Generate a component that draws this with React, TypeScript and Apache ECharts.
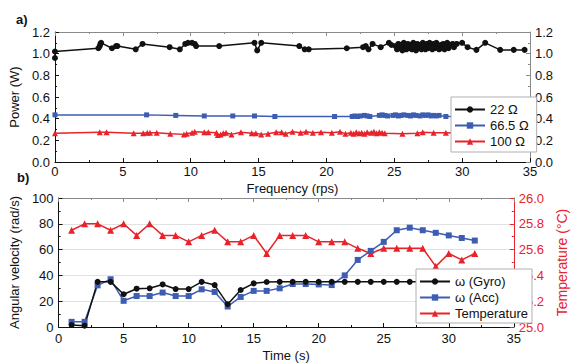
import React, { useEffect, useRef } from 'react';
import * as echarts from 'echarts';

// Panel a) Power (W) vs frequency (rps)
const power22: [number, number][] = [
  [0, 0.96], [0, 1.02], [3.2, 1.05], [3.3, 1.07], [3.35, 1.09], [3.4, 1.1], [4.2, 1.05], [4.5, 1.07], [4.6, 1.07],
  [5.95, 1.04], [6.45, 1.09], [8.45, 1.06], [9.2, 1.04], [9.6, 1.09], [9.8, 1.1], [10.1, 1.1], [10.3, 1.09],
  [10.4, 1.07], [12.1, 1.07], [14.7, 1.1], [14.9, 1.03], [15.2, 1.1], [18.0, 1.07], [18.4, 1.04], [18.7, 1.04],
  [21.5, 1.05], [22.7, 1.06], [22.9, 1.07], [23.1, 1.04], [23.4, 1.09], [24.0, 1.06], [24.6, 1.1], [24.8, 1.08],
  [25.1, 1.07], [25.2, 1.04], [25.3, 1.09], [25.4, 1.05], [25.5, 1.08], [25.6, 1.03], [25.7, 1.1], [25.8, 1.06],
  [25.9, 1.04], [26.0, 1.09], [26.1, 1.05], [26.2, 1.08], [26.3, 1.04], [26.4, 1.1], [26.5, 1.06], [26.6, 1.03],
  [26.7, 1.09], [26.8, 1.05], [26.9, 1.08], [27.0, 1.04], [27.1, 1.1], [27.2, 1.06], [27.3, 1.04], [27.4, 1.09],
  [27.5, 1.05], [27.6, 1.1], [27.7, 1.07], [27.8, 1.04], [27.9, 1.09], [28.0, 1.05], [28.1, 1.1], [28.2, 1.06],
  [28.3, 1.04], [28.4, 1.08], [28.5, 1.05], [28.6, 1.09], [28.7, 1.04], [28.8, 1.07], [28.9, 1.1], [29.0, 1.05],
  [29.1, 1.08], [29.3, 1.09], [29.4, 1.06], [29.6, 1.09], [30.0, 1.1], [30.4, 1.06], [31.05, 1.035], [31.7, 1.1],
  [32.8, 1.035], [33.8, 1.035], [34.6, 1.035],
];

const power66: [number, number][] = [
  [0, 0.435], [6.75, 0.435], [8.9, 0.43], [11.0, 0.425], [13.1, 0.425], [14.7, 0.425], [16.2, 0.42], [20.6, 0.42],
  [21.9, 0.42], [22.1, 0.425], [22.3, 0.42], [22.5, 0.425], [22.8, 0.43], [23.0, 0.425], [23.2, 0.42], [23.9, 0.43],
  [24.1, 0.435], [24.3, 0.43], [24.5, 0.425], [24.9, 0.43], [25.1, 0.435], [25.3, 0.425], [25.5, 0.43], [25.7, 0.435],
  [26.0, 0.43], [26.2, 0.425], [26.4, 0.435], [26.6, 0.43], [26.9, 0.425], [27.1, 0.435], [27.3, 0.43], [27.5, 0.435],
  [27.7, 0.425], [27.9, 0.43], [28.1, 0.425], [28.3, 0.43], [28.8, 0.42], [29.5, 0.42], [30.5, 0.415], [31.5, 0.415],
  [32.5, 0.41], [33.5, 0.41], [34.9, 0.41],
];

const power100: [number, number][] = [
  [0, 0.265], [3.3, 0.275], [3.8, 0.275], [5.8, 0.265], [6.5, 0.265], [6.8, 0.27], [7.0, 0.27], [7.5, 0.27],
  [8.5, 0.26], [9.5, 0.255], [9.7, 0.26], [10.1, 0.27], [10.3, 0.28], [11.0, 0.275], [11.3, 0.275], [11.9, 0.27],
  [12.0, 0.25], [12.2, 0.255], [12.4, 0.265], [12.6, 0.27], [13.0, 0.255], [13.7, 0.275], [14.5, 0.265],
  [14.8, 0.265], [15.2, 0.255], [15.7, 0.26], [16.3, 0.275], [16.7, 0.275], [17.0, 0.26], [17.5, 0.28], [18.1, 0.27],
  [18.5, 0.28], [19.0, 0.27], [19.6, 0.275], [20.4, 0.27], [21.0, 0.28], [21.4, 0.26], [21.8, 0.27], [22.0, 0.26],
  [22.2, 0.275], [22.4, 0.265], [22.6, 0.27], [22.8, 0.26], [23.0, 0.275], [23.3, 0.27], [23.5, 0.28], [23.7, 0.265],
  [23.9, 0.275], [24.1, 0.27], [24.3, 0.265], [25.6, 0.26], [26.7, 0.265], [27.1, 0.275], [27.9, 0.27], [28.8, 0.27],
  [29.8, 0.265], [31.0, 0.27], [32.2, 0.265], [33.5, 0.27], [34.8, 0.265],
];

// Panel b) Angular velocity / temperature vs time (s)
const timeS: number[] = [1, 2, 3, 4, 5, 6, 7, 8, 9, 10, 11, 12, 13, 14, 15, 16, 17, 18, 19, 20, 21, 22, 23, 24, 25, 26, 27, 28, 29, 30, 31, 32];
const gyro: number[] = [1.5, 1, 35, 35, 25.4, 29.7, 30, 33, 29.4, 29.4, 35, 32.5, 17.7, 28.7, 33.8, 34.9, 35, 35, 35, 35, 35, 35, 35, 35, 35, 35, 35, 35, 35, 35, 35, 35];
const acc: number[] = [4, 4, 32.3, 37, 20.3, 24, 24, 26.7, 24, 24, 29.2, 27.2, 15.9, 23.3, 28, 28, 30, 33.3, 33.3, 33, 32.5, 40, 52, 59, 66, 75, 77, 75, 73, 71, 69, 67];
const temperature: number[] = [25.75, 25.8, 25.8, 25.75, 25.8, 25.71, 25.8, 25.71, 25.71, 25.66, 25.71, 25.75, 25.66, 25.66, 25.71, 25.57, 25.71, 25.71, 25.71, 25.66, 25.66, 25.66, 25.61, 25.57, 25.61, 25.61, 25.61, 25.61, 25.47, 25.57, 25.52, 25.57];

const FONT = 'Liberation Sans, Arial, sans-serif';
const BLACK = '#111';
const BLUE = '#3d5db3';
const RED = '#e8232b';
const FRAME = '#8a8a8a';

const tickCommon = {
  axisTick: { show: true, inside: true, length: 4, lineStyle: { color: BLACK } },
  minorTick: { show: true, splitNumber: 2, length: 2, lineStyle: { color: BLACK } },
};

function xAxes(grid: number, name: string, nameGap: number, labelMargin: number) {
  return [
    {
      type: 'value', gridIndex: grid, min: 0, max: 35, interval: 5, position: 'bottom',
      axisLine: { onZero: false, lineStyle: { color: BLACK, width: 1 } },
      ...tickCommon,
      axisLabel: { fontSize: 13, color: BLACK, fontFamily: FONT, margin: labelMargin },
      splitLine: { show: false },
      name, nameLocation: 'middle', nameGap,
      nameTextStyle: { fontSize: 13, color: BLACK, fontFamily: FONT },
    },
    {
      type: 'value', gridIndex: grid, min: 0, max: 35, interval: 5, position: 'top',
      axisLine: { onZero: false, lineStyle: { color: FRAME, width: 1 } },
      axisTick: { show: true, inside: true, length: 4, lineStyle: { color: FRAME } },
      minorTick: { show: true, splitNumber: 2, length: 2, lineStyle: { color: FRAME } },
      axisLabel: { show: false },
      splitLine: { show: false },
    },
  ];
}

const option = {
  animation: false,
  backgroundColor: '#fff',
  textStyle: { fontFamily: FONT },
  grid: [
    { left: 51, top: 32, width: 479, height: 130 },
    { left: 51, top: 198, width: 479, height: 130 },
  ],
  xAxis: [
    ...xAxes(0, 'Frequency (rps)', 20, 3),
    ...xAxes(1, 'Time (s)', 22, 5),
  ],
  yAxis: [
    {
      type: 'value', gridIndex: 0, min: 0, max: 1.2, interval: 0.2, position: 'left',
      axisLine: { show: true, onZero: false, lineStyle: { color: BLACK } },
      ...tickCommon,
      axisLabel: { fontSize: 13, color: BLACK, margin: 5, formatter: (v: number) => v.toFixed(1) },
      splitLine: { show: false },
      name: 'Power (W)', nameLocation: 'middle', nameGap: 29, nameRotate: 90,
      nameTextStyle: { fontSize: 13, color: BLACK },
    },
    {
      type: 'value', gridIndex: 0, min: 0, max: 1.2, interval: 0.2, position: 'right',
      axisLine: { show: true, onZero: false, lineStyle: { color: FRAME } },
      axisTick: { show: true, inside: true, length: 4, lineStyle: { color: FRAME } },
      minorTick: { show: true, splitNumber: 2, length: 2, lineStyle: { color: FRAME } },
      axisLabel: { fontSize: 13, color: BLACK, margin: 5, formatter: (v: number) => v.toFixed(1) },
      splitLine: { show: false },
    },
    {
      type: 'value', gridIndex: 1, min: 0, max: 100, interval: 20, position: 'left',
      axisLine: { show: true, onZero: false, lineStyle: { color: BLACK } },
      ...tickCommon,
      axisLabel: { fontSize: 13, color: BLACK, margin: 5 },
      splitLine: { show: true, lineStyle: { color: '#e2e2e2', width: 1 } },
      name: 'Angular velocity (rad/s)', nameLocation: 'middle', nameGap: 28, nameRotate: 90,
      nameTextStyle: { fontSize: 13, color: BLACK },
    },
    {
      type: 'value', gridIndex: 1, min: 25, max: 26, interval: 0.2, position: 'right',
      axisLine: { show: true, onZero: false, lineStyle: { color: RED } },
      axisTick: { show: true, inside: true, length: 4, lineStyle: { color: RED } },
      minorTick: { show: true, splitNumber: 2, length: 2, lineStyle: { color: RED } },
      axisLabel: { fontSize: 13, color: RED, margin: 5, formatter: (v: number) => v.toFixed(1) },
      splitLine: { show: false },
      name: 'Temperature (°C)', nameLocation: 'middle', nameGap: 36, nameRotate: 90,
      nameTextStyle: { fontSize: 14, color: RED },
    },
  ],
  legend: [
    {
      left: 451, top: 97, orient: 'vertical', itemGap: 3, itemWidth: 30, itemHeight: 8,
      padding: [6, 8, 4, 3], borderColor: '#b0b0b0', borderWidth: 1, backgroundColor: '#fff',
      textStyle: { fontSize: 13, color: BLACK, fontFamily: FONT },
      data: ['22 Ω', '66.5 Ω', '100 Ω'],
    },
    {
      left: 416, top: 269, orient: 'vertical', itemGap: 3, itemWidth: 30, itemHeight: 8,
      padding: [6, 4, 3, 3], borderColor: '#b0b0b0', borderWidth: 1, backgroundColor: '#fff',
      textStyle: { fontSize: 13, color: BLACK, fontFamily: FONT },
      data: ['ω (Gyro)', 'ω (Acc)', 'Temperature'],
    },
  ],
  graphic: [
    { type: 'text', left: 16, top: 13, style: { text: 'a)', fontSize: 13, fontWeight: 'bold', fill: BLACK, fontFamily: FONT } },
    { type: 'text', left: 17, top: 171, style: { text: 'b)', fontSize: 13, fontWeight: 'bold', fill: BLACK, fontFamily: FONT } },
  ],
  series: [
    {
      name: '22 Ω', type: 'line', xAxisIndex: 0, yAxisIndex: 0, data: power22,
      symbol: 'circle', symbolSize: 6, color: BLACK, lineStyle: { width: 1.5, color: BLACK }, itemStyle: { color: BLACK },
    },
    {
      name: '66.5 Ω', type: 'line', xAxisIndex: 0, yAxisIndex: 0, data: power66,
      symbol: 'rect', symbolSize: 5, color: BLUE, lineStyle: { width: 1.5, color: BLUE }, itemStyle: { color: BLUE },
    },
    {
      name: '100 Ω', type: 'line', xAxisIndex: 0, yAxisIndex: 0, data: power100,
      symbol: 'triangle', symbolSize: 6, color: RED, lineStyle: { width: 1.5, color: RED }, itemStyle: { color: RED },
    },
    {
      name: 'Temperature', type: 'line', xAxisIndex: 2, yAxisIndex: 3,
      data: timeS.map((t, i) => [t, temperature[i]]),
      symbol: 'triangle', symbolSize: 7, color: RED, lineStyle: { width: 1.5, color: RED }, itemStyle: { color: RED },
    },
    {
      name: 'ω (Acc)', type: 'line', xAxisIndex: 2, yAxisIndex: 2,
      data: timeS.map((t, i) => [t, acc[i]]),
      symbol: 'rect', symbolSize: 6, color: BLUE, lineStyle: { width: 1.5, color: BLUE }, itemStyle: { color: BLUE },
    },
    {
      name: 'ω (Gyro)', type: 'line', xAxisIndex: 2, yAxisIndex: 2,
      data: timeS.map((t, i) => [t, gyro[i]]),
      symbol: 'circle', symbolSize: 6, color: BLACK, lineStyle: { width: 1.5, color: BLACK }, itemStyle: { color: BLACK },
    },
  ],
};

export default function App() {
  const ref = useRef<HTMLDivElement>(null);
  useEffect(() => {
    document.body.style.margin = '0';
    const chart = echarts.init(ref.current!, null, { renderer: 'svg' });
    chart.setOption(option as any);
    return () => chart.dispose();
  }, []);
  return <div ref={ref} style={{ width: 577, height: 363, background: '#fff' }} />;
}
